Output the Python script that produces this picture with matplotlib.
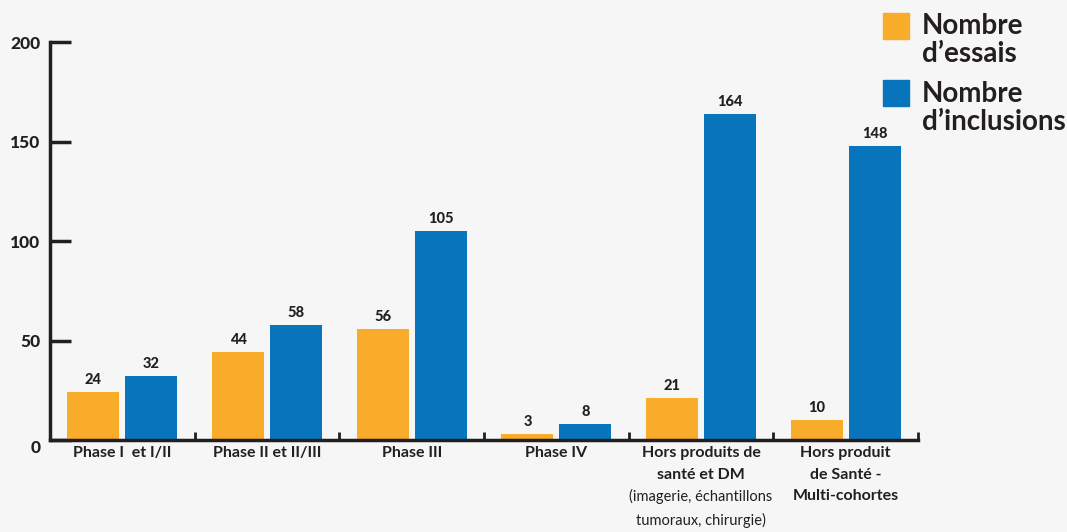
import numpy as np
import matplotlib
matplotlib.use("Agg")
import matplotlib.pyplot as plt
import matplotlib.transforms as mtransforms
from matplotlib.patches import Rectangle

# data
categories = [
    "Phase I  et I/II",
    "Phase II et II/III",
    "Phase III",
    "Phase IV",
    "Hors produits de\nsanté et DM",
    "Hors produit\nde Santé -\nMulti-cohortes",
]
sub_notes = ["", "", "", "", "(imagerie, échantillons\ntumoraux, chirurgie)", ""]
essais = [24, 44, 56, 3, 21, 10]
inclusions = [32, 58, 105, 8, 164, 148]
yticks = [0, 50, 100, 150, 200]

ORANGE = "#F9AC2A"
BLUE = "#0874BC"
INK = "#231F20"
BG = "#F6F6F6"

plt.rcParams["font.family"] = ["Lato", "DejaVu Sans"]

fig = plt.figure(figsize=(10.67, 5.32), dpi=100, facecolor=BG)
ax = fig.add_axes([0.0469, 0.1729, 0.8135, 0.748])
ax.set_facecolor(BG)

x = np.arange(len(categories))
w = 0.36
ax.bar(x - 0.2, essais, w, color=ORANGE, zorder=2)
ax.bar(x + 0.2, inclusions, w, color=BLUE, zorder=2)

for xi, v in zip(x - 0.2, essais):
    ax.text(xi, v + 2.5, str(v), ha="center", va="bottom", fontsize=10.5,
            fontweight="black", color=INK)
for xi, v in zip(x + 0.2, inclusions):
    ax.text(xi, v + 2.5, str(v), ha="center", va="bottom", fontsize=10.5,
            fontweight="black", color=INK)

ax.set_xlim(-0.5, len(categories) - 0.5)
ax.set_ylim(0, 200)

for s in ["top", "right"]:
    ax.spines[s].set_visible(False)
for s in ["left", "bottom"]:
    ax.spines[s].set_linewidth(2.5)
    ax.spines[s].set_color(INK)
    ax.spines[s].set_capstyle("projecting")

ax.set_yticks(yticks)
ax.set_yticklabels([str(t) for t in yticks], fontsize=12.5, fontweight="black",
                   color=INK)
ax.tick_params(axis="y", direction="in", length=15, width=2.5, color=INK, pad=7)
# nudge the "0" a little under the axis line
zero = ax.yaxis.get_major_ticks()[0].label1
zero.set_transform(zero.get_transform()
                   + mtransforms.ScaledTranslation(0, -5 / 72, fig.dpi_scale_trans))

# group boundaries on the x axis
ax.set_xticks(np.arange(len(categories)) + 0.5)
ax.set_xticklabels([])
ax.tick_params(axis="x", direction="in", length=6, width=2, color=INK)

for xi, lab, note in zip(x, categories, sub_notes):
    ax.text(xi, -3.2, lab, ha="center", va="top", fontsize=11.5,
            fontweight="bold", color=INK, linespacing=1.65)
    if note:
        ax.text(xi, -24.4, note, ha="center", va="top", fontsize=10.5,
                color=INK, linespacing=1.8)

# legend
for y0, col, txt in [(0.927, ORANGE, "Nombre\nd’essais"),
                     (0.80, BLUE, "Nombre\nd’inclusions")]:
    fig.patches.append(Rectangle((0.8275, y0), 0.0245, 0.049,
                                 transform=fig.transFigure, color=col))
    fig.text(0.864, y0 + 0.048, txt, ha="left", va="top", fontsize=20,
             fontweight="bold", color=INK, linespacing=1.1)

fig.savefig("out.png", dpi=100, facecolor=BG)
